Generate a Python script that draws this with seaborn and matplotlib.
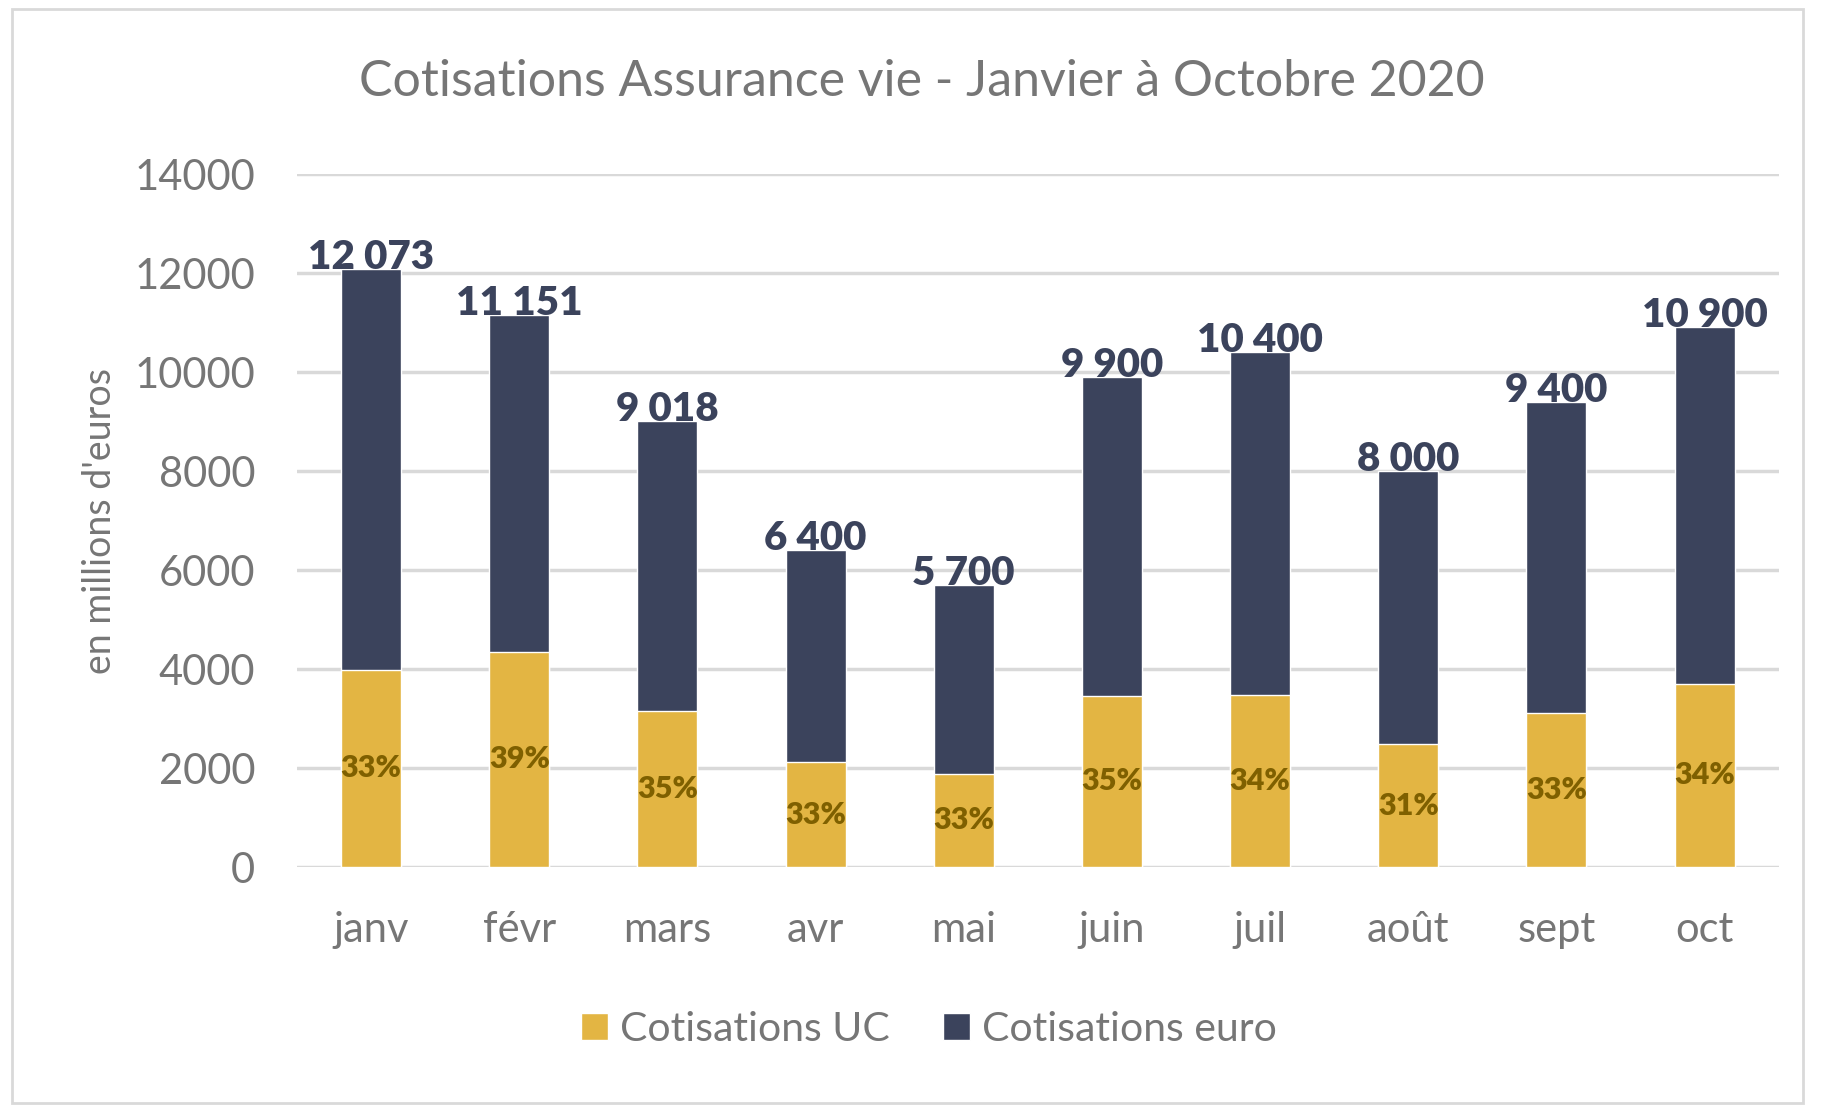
import pandas as pd
import seaborn as sns
from matplotlib import pyplot as plt
from matplotlib.patches import Rectangle, Patch

# Data (millions of euros)
months = ['janv', 'févr', 'mars', 'avr', 'mai', 'juin', 'juil', 'août', 'sept', 'oct']
totals = [12073, 11151, 9018, 6400, 5700, 9900, 10400, 8000, 9400, 10900]
uc = [3984, 4349, 3156, 2112, 1881, 3465, 3480, 2480, 3102, 3700]
uc_share = ['33%', '39%', '35%', '33%', '33%', '35%', '34%', '31%', '33%', '34%']

gold = '#E3B543'
navy = '#3B435C'
grey = '#767676'

sns.set_theme(style='white')
plt.rcParams['font.family'] = ['Lato', 'DejaVu Sans']

df = pd.DataFrame({'month': months, 'total': totals, 'uc': uc})

fig = plt.figure(figsize=(18.47, 11.12), dpi=100)
ax = fig.add_axes([0.1608, 0.2203, 0.8022, 0.6232])

# stacked bars: total (euro on top) then UC part from zero
sns.barplot(data=df, x='month', y='total', color=navy, width=0.405, saturation=1, ax=ax, zorder=3)
sns.barplot(data=df, x='month', y='uc', color=gold, width=0.405, saturation=1, ax=ax, zorder=4)

ax.set_ylim(0, 14000)
ax.set_xlim(-0.5, 9.5)
ax.set_yticks(range(0, 14001, 2000))
ax.yaxis.grid(True, color='#D9D9D9', linewidth=2.5, zorder=0)
ax.set_axisbelow(True)
for s in ax.spines.values():
    s.set_visible(False)
ax.tick_params(axis='both', length=0, labelsize=30, labelcolor=grey)
ax.tick_params(axis='x', pad=32)
ax.tick_params(axis='y', pad=30)
ax.set_xlabel('')
ax.set_ylabel("en millions d'euros", fontsize=27, color=grey, labelpad=12)

for i, (t, u, p) in enumerate(zip(totals, uc, uc_share)):
    lab = f'{t:,}'.replace(',', ' ')
    ax.text(i, t, lab, ha='center', va='baseline', fontsize=29, fontweight='heavy', color=navy, zorder=6)
    ax.text(i, u / 2, p, ha='center', va='center', fontsize=22, fontweight='heavy', color='#7F6000', zorder=6)

fig.text(0.499, 0.926, 'Cotisations Assurance vie - Janvier à Octobre 2020', ha='center', va='center',
         fontsize=36, color=grey)

handles = [Patch(facecolor=gold), Patch(facecolor=navy)]
fig.legend(handles, ['Cotisations UC', 'Cotisations euro'], loc='center', bbox_to_anchor=(0.503, 0.074),
           ncol=2, frameon=False, fontsize=29.5, labelcolor=grey, handlelength=0.65, handleheight=0.65,
           handletextpad=0.3, columnspacing=1.3)

# light frame around the chart area
fig.patches.append(Rectangle((0.0065, 0.008), 0.9695, 0.984, transform=fig.transFigure,
                             fill=False, edgecolor='#D9D9D9', linewidth=2))

fig.savefig('out.png', dpi=100)
